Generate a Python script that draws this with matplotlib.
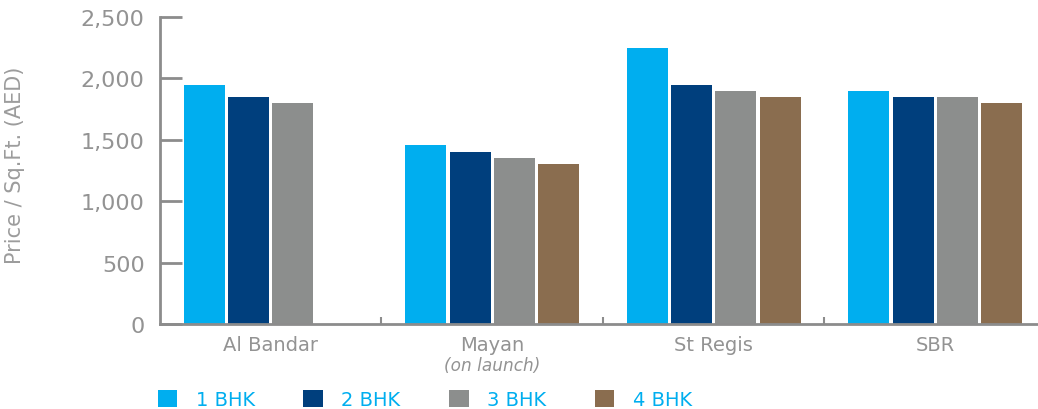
import matplotlib
matplotlib.use("Agg")
import matplotlib.pyplot as plt
from matplotlib.patches import Patch
import numpy as np

plt.rcParams['font.family'] = ['DejaVu Sans']

categories = ["Al Bandar", "Mayan", "St Regis", "SBR"]
series_names = ["1 BHK", "2 BHK", "3 BHK", "4 BHK"]
bhk1 = [1950, 1460, 2250, 1900]
bhk2 = [1850, 1400, 1950, 1850]
bhk3 = [1800, 1350, 1900, 1850]
bhk4 = [np.nan, 1300, 1850, 1800]
yticks = [0, 500, 1000, 1500, 2000, 2500]
ytick_labels = ["0", "500", "1,000", "1,500", "2,000", "2,500"]

colors = ["#00AEEF", "#003F7D", "#8C8E8D", "#8A6D4F"]
gray = "#8C8C8C"
tgray = "#939393"
W, H = 1038, 410
fig = plt.figure(figsize=(W / 100, H / 100), dpi=100)
ax = fig.add_axes([160 / W, 85 / H, (W - 160) / W, (325 - 18) / H])

x = np.arange(len(categories))
slot = 0.2
bw = 0.185
for i, (vals, c) in enumerate(zip([bhk1, bhk2, bhk3, bhk4], colors)):
    ax.bar(x + (i - 1.5) * slot, vals, width=bw, color=c, label=series_names[i], zorder=2)

ax.set_xlim(-0.5, 3.464)
ax.set_ylim(0, 2500)

for s in ["top", "right"]:
    ax.spines[s].set_visible(False)
for s in ["left", "bottom"]:
    ax.spines[s].set_color(gray)
    ax.spines[s].set_linewidth(2)
    ax.spines[s].set_zorder(3)

ax.set_yticks(yticks)
ax.set_yticklabels(ytick_labels)
ax.tick_params(axis="y", direction="in", length=16, width=2, color=gray,
               labelsize=16, labelcolor=tgray, pad=11)

ax.set_xticks([0.5, 1.5, 2.5])
ax.set_xticklabels([])
ax.tick_params(axis="x", which="major", direction="in", length=5, width=1.5, color=gray)
ax.set_xticks(x, categories, minor=True)
ax.tick_params(axis="x", which="minor", length=0, labelsize=14, labelcolor=tgray, pad=8)

ax.text(1, -0.135, "(on launch)", transform=ax.get_xaxis_transform(), ha="center", va="center",
        fontsize=12.2, style="italic", color=tgray)

ax.set_ylabel("Price / Sq.Ft. (AED)", fontsize=15, color="#9C9C9C")
ax.yaxis.set_label_coords(-135 / (W - 160), 0.52)

handles = [Patch(facecolor=c, edgecolor="none") for c in colors]
leg = fig.legend(handles, series_names, loc="lower left", bbox_to_anchor=(150 / W, -8 / H),
                 ncol=4, frameon=False, fontsize=14, labelcolor=colors[0],
                 handlelength=1.0, handleheight=1.0, handletextpad=0.95, columnspacing=2.5,
                 borderaxespad=0)

fig.savefig("out.png", dpi=100)
